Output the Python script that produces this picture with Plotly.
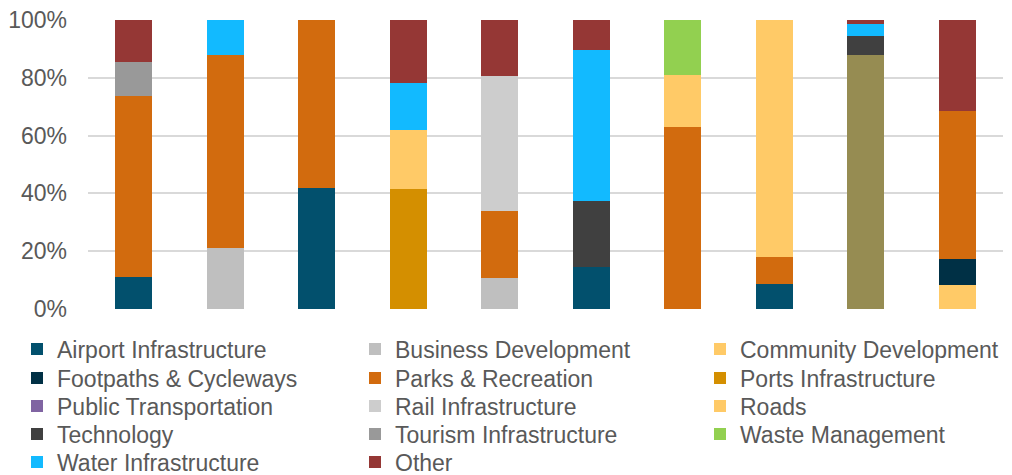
import plotly.graph_objects as go

projects = ["P1", "P2", "P3", "P4", "P5", "P6", "P7", "P8", "P9", "P10"]

airport      = [11.0, 0, 41.8, 0, 0, 14.4, 0, 8.8, 0, 0]
business     = [0, 21.1, 0, 0, 10.7, 0, 0, 0, 0, 0]
community    = [0, 0, 0, 0, 0, 0, 0, 0, 0, 8.3]
footpaths    = [0, 0, 0, 0, 0, 0, 0, 0, 0, 9.0]
parks        = [62.7, 66.8, 58.2, 0, 23.2, 0, 63.1, 9.3, 0, 51.2]
ports        = [0, 0, 0, 41.5, 0, 0, 0, 0, 0, 0]
public       = [0, 0, 0, 0, 0, 0, 0, 0, 0, 0]
rail         = [0, 0, 0, 0, 46.6, 0, 0, 0, 0, 0]
unlisted     = [0, 0, 0, 0, 0, 0, 0, 0, 87.8, 0]
roads        = [0, 0, 0, 20.5, 0, 0, 17.9, 81.9, 0, 0]
technology   = [0, 0, 0, 0, 0, 23.1, 0, 0, 6.8, 0]
tourism      = [11.7, 0, 0, 0, 0, 0, 0, 0, 0, 0]
waste        = [0, 0, 0, 0, 0, 0, 19.0, 0, 0, 0]
water        = [0, 12.1, 0, 16.1, 0, 52.1, 0, 0, 4.0, 0]
other        = [14.6, 0, 0, 21.9, 19.5, 10.4, 0, 0, 1.4, 31.5]

tick_vals = [0, 20, 40, 60, 80, 100]
tick_text = ["0%", "20%", "40%", "60%", "80%", "100%"]

# (name, values, colour, legend id or None)
series = [
    ("Airport Infrastructure", airport, "#02506D", "legend"),
    ("Business Development", business, "#BFBFBF", "legend"),
    ("Community Development", community, "#FFCA67", "legend6"),
    ("Footpaths & Cycleways", footpaths, "#003045", "legend2"),
    ("Parks & Recreation", parks, "#D26B0E", "legend2"),
    ("Ports Infrastructure", ports, "#D48F00", "legend7"),
    ("Public Transportation", public, "#8064A2", "legend3"),
    ("Rail Infrastructure", rail, "#CDCDCD", "legend3"),
    ("Unlisted", unlisted, "#968C52", None),
    ("Roads", roads, "#FFCA67", "legend8"),
    ("Technology", technology, "#404040", "legend4"),
    ("Tourism Infrastructure", tourism, "#999999", "legend4"),
    ("Waste Management", waste, "#92D050", "legend9"),
    ("Water Infrastructure", water, "#12BAFF", "legend5"),
    ("Other", other, "#953735", "legend5"),
]

fig = go.Figure()
for name, vals, color, lg in series:
    kw = dict(name=name, x=projects, y=vals,
              marker=dict(color=color, line=dict(width=0)))
    if lg is None:
        kw["showlegend"] = False
    else:
        kw["legend"] = lg
    fig.add_trace(go.Bar(**kw))

# page body has an 8px margin, so the figure is shifted by 8px inside the window
OFF = 8
W, H = 1012 - OFF, 475 - OFF
plot_left, plot_top, plot_bottom, plot_w = 88 - OFF, 20 - OFF, 309 - OFF, 915
plot_h = plot_bottom - plot_top
row_px = [y - OFF for y in (349, 378, 406, 434, 462)]
col1_left = 17 - OFF
col3_left = 700 - OFF

legend_font = dict(family="Liberation Sans, Arial, sans-serif", size=23, color="#595959")
layout_legends = {}
for i, y in enumerate(row_px):
    key = "legend" if i == 0 else f"legend{i+1}"
    layout_legends[key] = dict(
        orientation="h", x=(col1_left - plot_left) / plot_w, xanchor="left",
        y=-(y - plot_bottom) / plot_h, yanchor="middle", traceorder="normal",
        entrywidth=293, entrywidthmode="pixels", font=legend_font,
        bgcolor="rgba(0,0,0,0)", borderwidth=0,
    )
for i, y in enumerate(row_px[:4]):
    key = f"legend{i+6}"
    layout_legends[key] = dict(
        orientation="h", x=(col3_left - plot_left) / plot_w, xanchor="left",
        y=-(y - plot_bottom) / plot_h, yanchor="middle", traceorder="normal",
        font=legend_font, bgcolor="rgba(0,0,0,0)", borderwidth=0,
    )

fig.update_layout(
    barmode="stack",
    bargap=0.6,
    width=W, height=H,
    margin=dict(l=plot_left, r=W - plot_left - plot_w, t=plot_top,
                b=H - plot_bottom, autoexpand=False),
    plot_bgcolor="white", paper_bgcolor="white",
    font=dict(family="Liberation Sans, Arial, sans-serif", size=23, color="#595959"),
    xaxis=dict(showticklabels=False, showgrid=False, zeroline=False, showline=False),
    yaxis=dict(range=[0, 100], tickmode="array", tickvals=tick_vals, ticktext=tick_text,
               showgrid=True, gridcolor="#D9D9D9", gridwidth=1.5, zeroline=False,
               showline=False, ticks="", ticklabelstandoff=20,
               ticklabeloverflow="allow",
               tickfont=dict(size=23, color="#595959")),
    **layout_legends,
)

fig.write_html("out.html")
